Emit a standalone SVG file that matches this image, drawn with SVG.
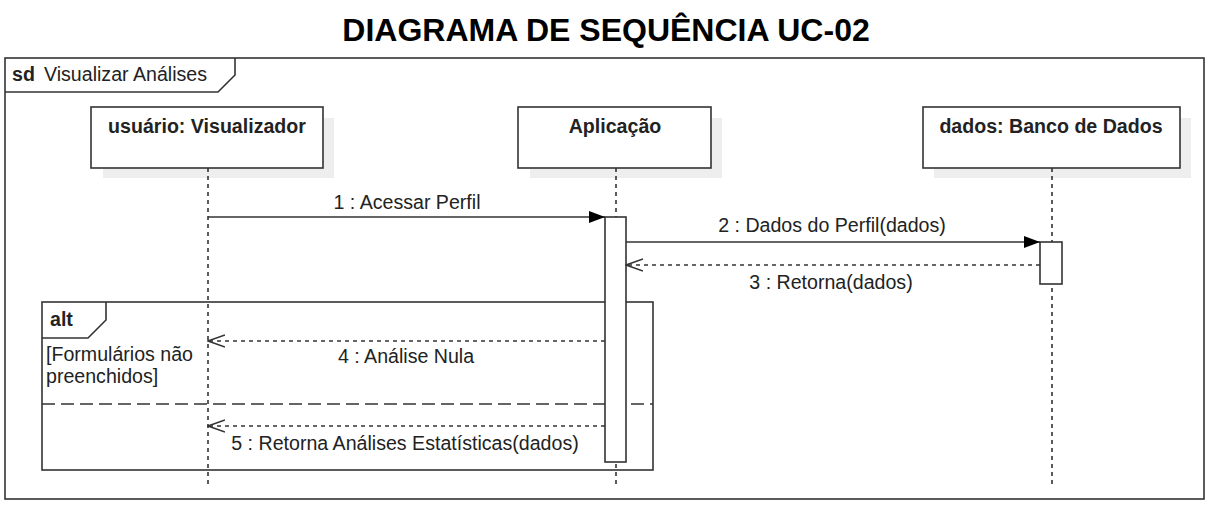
<svg xmlns="http://www.w3.org/2000/svg" width="1216" height="510" viewBox="0 0 1216 510">
<defs>
<style>
text{font-family:"Liberation Sans",Arial,sans-serif;fill:#222;}
.t{font-size:32px;font-weight:bold;fill:#000;}
.b{font-size:19.6px;font-weight:bold;}
.n{font-size:19.6px;}
.m{font-size:19.6px;text-anchor:middle;}
.head{fill:#fff;stroke:#333;stroke-width:1.6;}
.shadow{fill:#eeeeee;stroke:none;}
.life{stroke:#333;stroke-width:1.6;stroke-dasharray:4 4;fill:none;}
.act{fill:#fff;stroke:#333;stroke-width:1.6;}
.frame{fill:none;stroke:#333;stroke-width:1.6;}
.sync{stroke:#333;stroke-width:1.6;fill:none;marker-end:url(#filled);}
.ret{stroke:#333;stroke-width:1.6;stroke-dasharray:4 4;fill:none;marker-end:url(#open);}
</style>
<marker id="filled" viewBox="0 0 16 12" refX="16" refY="6" markerWidth="16" markerHeight="12" markerUnits="userSpaceOnUse" orient="auto">
<path d="M0,0 L16,6 L0,12 Z" fill="#000"/>
</marker>
<marker id="open" viewBox="0 0 18 14" refX="17" refY="7" markerWidth="18" markerHeight="14" markerUnits="userSpaceOnUse" orient="auto">
<path d="M0,1 L17,7 L0,13" fill="none" stroke="#333" stroke-width="1.4"/>
</marker>
</defs>
<rect width="1216" height="510" fill="#fff"/>
<text class="t" x="606" y="41" text-anchor="middle">DIAGRAMA DE SEQUÊNCIA UC-02</text>

<g id="frame-sd">
<rect class="frame" x="5" y="58" width="1199" height="441" stroke-width="2"/>
<path class="frame" d="M5,92 L218,92 L235,75 L235,58" fill="#fff"/>
<text x="12" y="81" class="b">sd</text>
<text x="44" y="81" class="n">Visualizar Análises</text>
</g>

<g id="lifeline-usuario">
<rect class="shadow" x="103" y="118" width="231" height="60"/>
<rect class="head" x="91" y="107" width="232" height="61"/>
<text class="b" x="207" y="133" text-anchor="middle">usuário: Visualizador</text>
<line class="life" x1="208" y1="168" x2="208" y2="488"/>
</g>

<g id="lifeline-aplicacao">
<rect class="shadow" x="530" y="118" width="192" height="60"/>
<rect class="head" x="518" y="107" width="193" height="61"/>
<text class="b" x="615" y="133" text-anchor="middle">Aplicação</text>
<line class="life" x1="616" y1="168" x2="616" y2="488"/>
</g>

<g id="lifeline-dados">
<rect class="shadow" x="934" y="118" width="257" height="60"/>
<rect class="head" x="923" y="107" width="257" height="61"/>
<text class="b" x="1051" y="133" text-anchor="middle">dados: Banco de Dados</text>
<line class="life" x1="1052" y1="168" x2="1052" y2="488"/>
</g>

<g id="fragment-alt">
<rect class="frame" x="42" y="302" width="611" height="168"/>
<path class="frame" d="M42,338 L88,338 L106,320 L106,302" fill="#fff"/>
<text class="b" x="50" y="326">alt</text>
<text class="n" x="46" y="361">[Formulários não</text>
<text class="n" x="46" y="383">preenchidos]</text>
<line x1="42" y1="404" x2="653" y2="404" stroke="#333" stroke-width="1.6" stroke-dasharray="13 6"/>
</g>

<g id="activation-aplicacao">
<rect class="act" x="605" y="217" width="21" height="245"/>
</g>
<g id="activation-dados">
<rect class="act" x="1040" y="242" width="22" height="42"/>
</g>

<g id="connectors">
<line class="sync" x1="208" y1="217" x2="605" y2="217"/>
<line class="sync" x1="626" y1="242" x2="1040" y2="242"/>
<line class="ret" x1="1040" y1="265" x2="626" y2="265"/>
<line class="ret" x1="605" y1="341" x2="208" y2="341"/>
<line class="ret" x1="605" y1="426" x2="208" y2="426"/>
<text class="m" x="407" y="209">1 : Acessar Perfil</text>
<text class="m" x="832" y="232">2 : Dados do Perfil(dados)</text>
<text class="m" x="831" y="289">3 : Retorna(dados)</text>
<text class="m" x="406" y="363">4 : Análise Nula</text>
<text class="m" x="405" y="450">5 : Retorna Análises Estatísticas(dados)</text>
</g>
</svg>
